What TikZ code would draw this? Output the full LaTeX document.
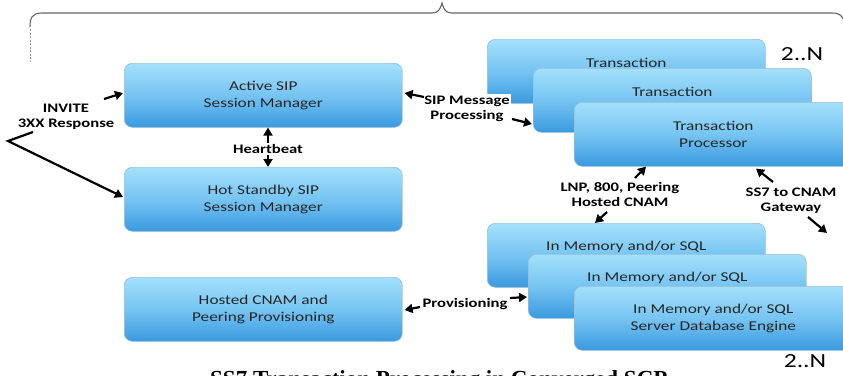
\documentclass[tikz,border=0pt]{standalone}
\usepackage{fontspec}
\setmainfont{Carlito}
\newfontfamily\cb[FakeStretch=1.28]{Carlito}
\newfontfamily\capfont{Liberation Serif}
\usetikzlibrary{arrows.meta,calc}
\definecolor{boxtop}{RGB}{164,224,251}
\definecolor{boxmid}{RGB}{118,196,242}
\definecolor{boxbot}{RGB}{58,154,223}
\definecolor{boxedge}{RGB}{150,190,220}
\definecolor{bracegray}{RGB}{100,100,100}
\begin{document}
\begin{tikzpicture}[x=1pt,y=-1pt,
  bluebox/.style={draw=boxedge, line width=0.6pt, rounded corners=8pt,
    top color=boxtop, bottom color=boxbot, middle color=boxmid,
    minimum width=278pt, minimum height=64pt, anchor=north west,
    align=center, inner sep=0pt, text=black!85,
    font=\cb\fontsize{13.5}{16.5}\selectfont},
  lbl/.style={font=\cb\bfseries\fontsize{13}{15}\selectfont, align=center,
    inner sep=1.5pt, text=black},
  cnt/.style={font=\cb\fontsize{20}{22}\selectfont, inner sep=0pt},
  arr/.style={line width=2.2pt, -{Triangle[length=8pt,width=9pt]}},
  brace/.style={draw=bracegray, line width=1.1pt},
  dashline/.style={draw=bracegray!70, line width=0.8pt, dash pattern=on 2pt off 1.5pt}]
\useasboundingbox (0,0) rectangle (843,375);

% brace
\draw[brace] (30,27) .. controls (30,18) and (32,13) .. (42,13) -- (432,13)
  .. controls (438,13) and (440,10) .. (442,3)
  .. controls (444,10) and (446,13) .. (452,13) -- (832,13)
  .. controls (840,13) and (843,16) .. (845,24);
\draw[dashline] (30,29) -- (30,62);

% left boxes
\node[bluebox] (act) at (124,63) {Active SIP\\Session Manager};
\node[bluebox] (hot) at (124,167) {Hot Standby SIP\\Session Manager};
\node[bluebox] (hcnam) at (124,277) {Hosted CNAM and\\Peering Provisioning};

% transaction processors
\node[bluebox] (t1) at (487,39) {Transaction\\\phantom{Processor}};
\node[bluebox] (t2) at (533,68) {Transaction\\\phantom{Processor}};
\node[bluebox] (t3) at (574,102) {Transaction\\Processor};

% databases
\node[bluebox] (d1) at (487,223) {In Memory and/or SQL\\\phantom{Server Database Engine}};
\node[bluebox] (d2) at (528,254) {In Memory and/or SQL\\\phantom{Server Database Engine}};
\node[bluebox] (d3) at (574,286) {In Memory and/or SQL\\Server Database Engine};

% labels
\node[lbl] (inv) at (66,116.5) {INVITE\\3XX Response};
\node[lbl] (hb) at (268,149) {Heartbeat};
\node[lbl, fill=white] (sipm) at (467,108.5) {SIP Message\\Processing};
\node[lbl] (lnp) at (620,194.5) {LNP, 800, Peering\\Hosted CNAM};
\node[lbl] (ss7) at (791,200.5) {SS7 to CNAM\\Gateway};
\node[lbl] (prov) at (465,304) {Provisioning};
\node[cnt] (n1) at (802,54) {2..N};
\node[cnt] (n2) at (805,361) {2..N};

% caption (cut by the page edge, as in the reference)
\node[anchor=base west, inner sep=0pt, font=\capfont\bfseries\fontsize{23}{25}\selectfont] (cap) at (210,386) {SS7 Transaction Processing in Converged SCP};

% free ends
\coordinate (a1) at (104,99);
\coordinate (iv1) at (33,132);
\coordinate (iv2) at (8,141);
\coordinate (s1) at (424,97);
\coordinate (s2) at (512,119);
\coordinate (l1) at (635,178);
\coordinate (l2) at (607,212);
\coordinate (g1) at (773,182);
\coordinate (g2) at (808,217);
\coordinate (g3) at (827,233);
\coordinate (p1) at (420,307);
\coordinate (p2) at (510,298);

% connectors
\draw[arr] (a1) -- ($(act.north west)+(-1,30)$);
\draw[arr] (iv1) -- (iv2) -- ($(hot.north west)+(-1,30)$);
\draw[arr] (hb.north) -- (hb.north |- act.south);
\draw[arr] (hb.south) -- (hb.south |- hot.north);
\draw[arr] (s1) -- ($(act.north east)+(2,30)$);
\draw[arr] (s2) -- ($(t2.north west)+(-1,56)$);
\draw[arr] (l1) -- ($(t3.south west)+(72,0)$);
\draw[arr] (l2) -- ($(d1.north west)+(108,0)$);
\draw[arr] (g1) -- ($(t3.south west)+(182,2)$);
\draw[arr] (g2) -- (g3);
\draw[arr] (p1) -- ($(hcnam.north east)+(2,33)$);
\draw[arr] (p2) -- ($(d2.north west)+(-1,43)$);
\end{tikzpicture}
\end{document}
